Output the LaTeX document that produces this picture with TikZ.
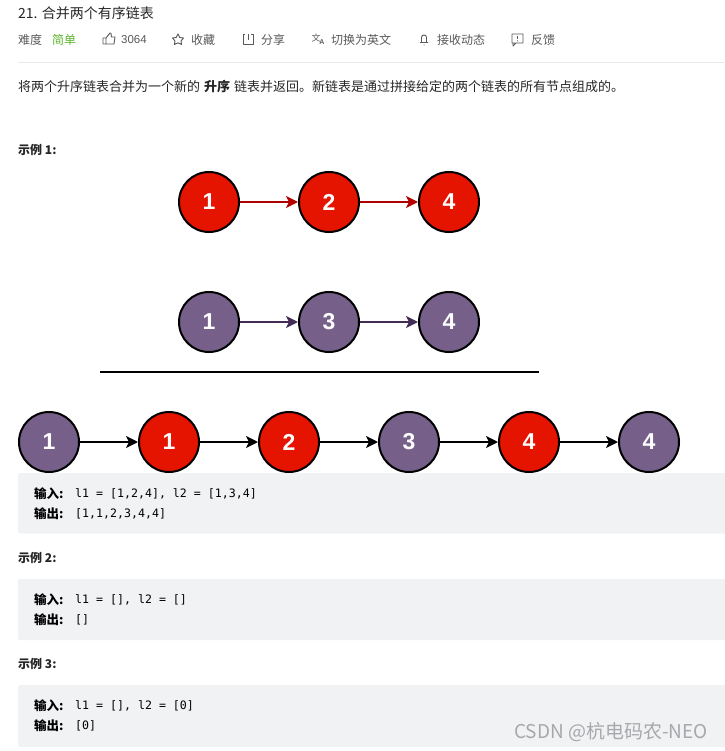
\documentclass[tikz,border=0pt]{standalone}
\usepackage{fontspec}
\setmainfont{Liberation Sans}
\setmonofont{DejaVu Sans Mono}
\newfontfamily\cjk{Noto Sans CJK SC}
\usetikzlibrary{arrows.meta,positioning}
\definecolor{redNode}{HTML}{E51400}
\definecolor{redLine}{HTML}{B20000}
\definecolor{purpleNode}{HTML}{76608A}
\definecolor{purpleLine}{HTML}{432D57}
\definecolor{codeBack}{HTML}{F1F2F4}
\definecolor{textDark}{HTML}{262626}
\definecolor{textGray}{HTML}{595959}
\definecolor{easyGreen}{HTML}{5CB32A}
\definecolor{ruleGray}{HTML}{E8E8E8}
\definecolor{markGray}{HTML}{A6A8AB}
\tikzset{
  listnode/.style={circle,draw=black,line width=2pt,minimum size=60pt,inner sep=0pt,
    text=white,font=\fontsize{23}{23}\selectfont\bfseries},
  rednode/.style={listnode,fill=redNode},
  purplenode/.style={listnode,fill=purpleNode},
  linkarrow/.style={-{Stealth[length=12pt,width=12pt,inset=3pt]},line width=2pt},
  codebox/.style={fill=codeBack,rounded corners=2pt},
  toptext/.style={anchor=west,inner sep=0pt,text=textGray,font=\fontsize{12}{12}\selectfont\cjk},
  icon/.style={draw=textGray,line width=.9pt,line join=round},
  bodytext/.style={anchor=west,inner sep=0pt,text=textDark,font=\fontsize{13}{13}\selectfont\cjk},
  headtext/.style={anchor=west,inner sep=0pt,text=textDark,font=\fontsize{12}{12}\selectfont\cjk\bfseries},
  codekey/.style={anchor=west,inner sep=0pt,text=black,font=\fontsize{12.5}{12}\selectfont\cjk\bfseries},
  codeval/.style={anchor=west,inner sep=0pt,text=black,font=\fontsize{11.6}{12}\selectfont\ttfamily}
}
\begin{document}
\begin{tikzpicture}[x=1pt,y=-1pt]
    \path[use as bounding box] (0,0) rectangle (724,751);
    % header
    \node[anchor=west,inner sep=0pt,text=textDark,font=\fontsize{14}{14}\selectfont\cjk] (title) at (18,13.5) {21. 合并两个有序链表};
    \node[toptext] (level) at (18,40) {难度};
    \node[toptext,text=easyGreen] (easy) at (52,40) {简单};
    \node[toptext,font=\fontsize{11.5}{12}\selectfont] (likes) at (121,40) {3064};
    \node[toptext] (fav) at (191,40) {收藏};
    \node[toptext] (share) at (261,40) {分享};
    \node[toptext] (english) at (331,40) {切换为英文};
    \node[toptext] (news) at (437,40) {接收动态};
    \node[toptext] (report) at (531,40) {反馈};
    % icons
    \draw[icon] (103,38) rectangle (106,44) (106,38) -- (110,33) -- (111,33.5) -- (111.5,37) -- (115,37) -- (114,44) -- (106,44);
    \draw[icon] (178,34) -- (179.8,37.5) -- (183.5,38) -- (181,41) -- (181.6,44.5) -- (178,42.8) -- (174.4,44.5) -- (175,41) -- (172.5,38) -- (176.2,37.5) -- cycle;
    \draw[icon] (245,34) -- (243,34) -- (243,44) -- (253,44) -- (253,34) -- (251,34) (248,40) -- (248,34);
    \node[inner sep=0pt,text=textGray,font=\fontsize{9}{9}\selectfont\cjk] (iconA) at (316,38) {文};
    \node[inner sep=0pt,text=textGray,font=\fontsize{7}{7}\selectfont\bfseries] (iconB) at (322,42) {A};
    \draw[icon] (420,42.5) -- (428,42.5) (421.5,42.5) -- (421.5,37.5) arc[start angle=180,end angle=360,radius=2.5] -- (426.5,42.5) (423.5,45) -- (424.5,45);
    \draw[icon] (512,34) rectangle (523,43) (513,43) -- (513,46) -- (516,43) (517.5,36) -- (517.5,39) (517.5,40.5) -- (517.5,41.5);
    \draw[ruleGray,line width=.9pt] (18,62) -- (724,62);
    \node[bodytext] (intro) at (18,86.5) {将两个升序链表合并为一个新的\hspace{4pt}{\bfseries 升序}\hspace{4pt}链表并返回。新链表是通过拼接给定的两个链表的所有节点组成的。};
    \node[headtext] (head1) at (18,149.5) {示例 1:};
    % first list
    \foreach \x/\val/\name in {209/1/a,329/2/b,449/4/c} {
      \node[rednode] (\name) at (\x,202) {\val};
    }
    \draw[linkarrow,redLine] (a) -- (b);
    \draw[linkarrow,redLine] (b) -- (c);
    % second list
    \foreach \x/\val/\name in {209/1/d,329/3/e,449/4/f} {
      \node[purplenode] (\name) at (\x,322) {\val};
    }
    \draw[linkarrow,purpleLine] (d) -- (e);
    \draw[linkarrow,purpleLine] (e) -- (f);
    \coordinate (lineL) at (100,372);
    \coordinate (lineR) at (539,372);
    \draw[line width=2pt,black] (lineL) -- (lineR);
    % merged list
    \foreach \x/\val/\name/\kind in {49/1/m1/purplenode,169/1/m2/rednode,289/2/m3/rednode,409/3/m4/purplenode,529/4/m5/rednode,649/4/m6/purplenode} {
      \node[\kind] (\name) at (\x,442) {\val};
    }
    \foreach \p/\q in {m1/m2,m2/m3,m3/m4,m4/m5,m5/m6} {
      \draw[linkarrow,black] (\p) -- (\q);
    }
    % examples
    \fill[codebox] (18,473) rectangle (730,533.5);
    \node[codekey] (in1) at (34,494) {输入:};
    \node[codeval] (val1) at (75,494) {l1 = [1,2,4], l2 = [1,3,4]};
    \node[codekey] (out1) at (34,514) {输出:};
    \node[codeval] (res1) at (75,514) {[1,1,2,3,4,4]};
    \node[headtext] (head2) at (18,558) {示例 2:};
    \fill[codebox] (18,579) rectangle (730,640);
    \node[codekey] (in2) at (34,600) {输入:};
    \node[codeval] (val2) at (75,600) {l1 = [], l2 = []};
    \node[codekey] (out2) at (34,620) {输出:};
    \node[codeval] (res2) at (75,620) {[]};
    \node[headtext] (head3) at (18,664) {示例 3:};
    \fill[codebox] (18,685) rectangle (730,747);
    \node[codekey] (in3) at (34,706) {输入:};
    \node[codeval] (val3) at (75,706) {l1 = [], l2 = [0]};
    \node[codekey] (out3) at (34,726) {输出:};
    \node[codeval] (res3) at (75,726) {[0]};
    \node[anchor=west,inner sep=0pt,text=markGray,font=\fontsize{19}{19}\selectfont\cjk] (mark) at (514,732) {CSDN @杭电码农-NEO};
  \end{tikzpicture}
\end{document}
